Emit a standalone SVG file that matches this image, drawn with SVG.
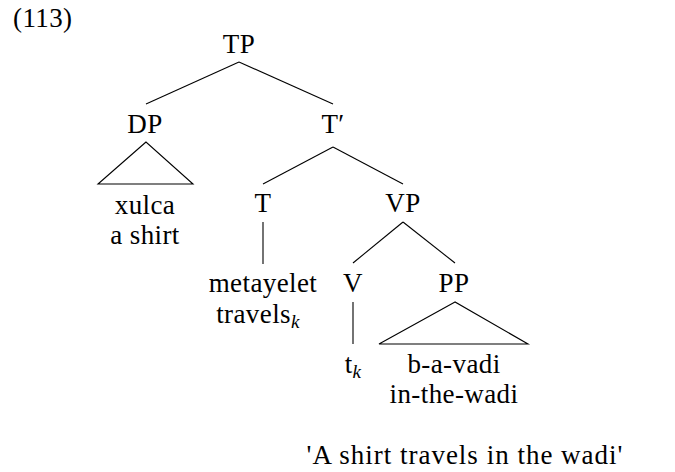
<svg xmlns="http://www.w3.org/2000/svg" width="675" height="472" viewBox="0 0 675 472">
<style>
text{font-family:'Liberation Serif', 'DejaVu Serif', serif;font-size:27px;fill:#000;text-anchor:middle;letter-spacing:0.4px}
.sub{font-style:italic;font-size:19px}
.gloss{letter-spacing:1px}
.edge{stroke:#000;stroke-width:1.1;fill:none}
</style>
<rect width="675" height="472" fill="#fff"/>
<text x="13" y="27" style="text-anchor:start">(113)</text>
<g id="connectors">
<line class="edge" x1="239" y1="62" x2="146" y2="104"/>
<line class="edge" x1="239" y1="62" x2="333" y2="104"/>
<polygon class="edge" points="146,142 98,184 193,184"/>
<line class="edge" x1="333" y1="147" x2="263" y2="184"/>
<line class="edge" x1="333" y1="147" x2="403" y2="184"/>
<line class="edge" x1="263" y1="222" x2="263" y2="264"/>
<line class="edge" x1="403" y1="222" x2="353" y2="263"/>
<line class="edge" x1="403" y1="222" x2="455" y2="263"/>
<line class="edge" x1="353" y1="302" x2="353" y2="344"/>
<polygon class="edge" points="455,302 379,344 528,344"/>
</g>
<g id="TP"><text x="239" y="53">TP</text></g>
<g id="DP"><text x="145" y="133">DP</text></g>
<g id="Tbar"><text x="333" y="133">T′</text></g>
<g id="xulca"><text x="145" y="214">xulca</text><text x="145" y="244">a shirt</text></g>
<g id="T"><text x="263" y="212">T</text></g>
<g id="VP"><text x="403" y="212">VP</text></g>
<g id="metayelet"><text x="263" y="292">metayelet</text><text x="258" y="323">travels<tspan class="sub" dy="5">k</tspan></text></g>
<g id="V"><text x="353" y="292">V</text></g>
<g id="PP"><text x="454" y="292">PP</text></g>
<g id="tk"><text x="353" y="373">t<tspan class="sub" dy="5">k</tspan></text></g>
<g id="bavadi"><text x="454" y="373">b-a-vadi</text><text x="454" y="403">in-the-wadi</text></g>
<text class="gloss" x="465" y="464">'A shirt travels in the wadi'</text>
</svg>
